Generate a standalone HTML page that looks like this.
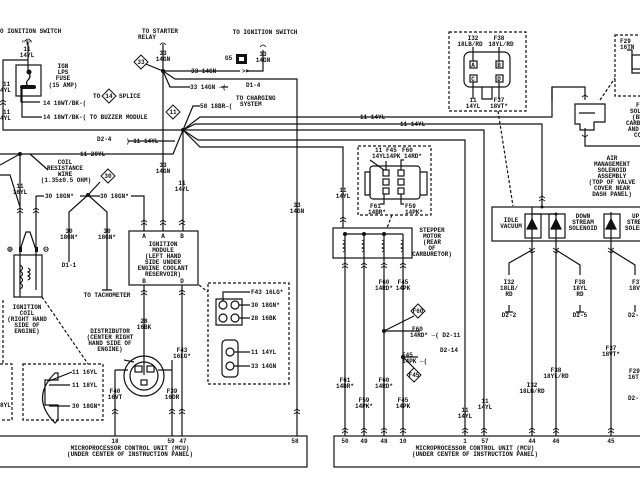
<!DOCTYPE html>
<html><head><meta charset="utf-8"><style>
html,body{margin:0;padding:0;background:#fff;}
svg{display:block;}
text{font-family:"Liberation Mono",monospace;font-size:6px;font-weight:bold;fill:#111;}
.c{text-anchor:middle;}
</style></head><body>
<svg width="640" height="480" viewBox="0 0 640 480" xmlns="http://www.w3.org/2000/svg">
<rect width="640" height="480" fill="#fff"/>
<g stroke="#111" stroke-width="1.2" fill="none">
<rect x="-2" y="436" width="309" height="31"/>
<rect x="334" y="436" width="310" height="31"/>
<path d="M183,130 L200,117 H552 V87 H585 V100"/>
<path d="M183,130 L195,124 H542 V207"/>
<path d="M183,130 H484 V436"/>
<path d="M183,130 L198,140 H465 V436"/>
<path d="M183,130 L200,147 H343 V228"/>
<path d="M28,60 H3 V130 H183"/>
<path d="M0,154 H173 L183,130"/>
<path d="M183,130 V231"/>
<path d="M175,141 H128"/>
<path d="M183,130 L193,106 H200"/>
<rect x="16" y="65" width="25" height="31"/>
<path d="M28,42 V72"/>
<path d="M21,88 V102 H40 M22,88 V117 H42"/>
<path d="M28,72 q4,4 0,8 q-3,3 0,6"/>
<path d="M163,44 V231"/>
<path d="M141,62 L163,71 H240 M246,71 H263 V50"/>
<path d="M163,71 L175,79 H297 V436"/>
<path d="M163,71 L170,87 H190 M221,87 H228"/>
<path d="M20,154 V250"/>
<path d="M0,175 H10 L20,207"/>
<path d="M36,196 H44 M36,196 V250"/>
<path d="M30,154 L48,170"/>
<path d="M0,165 L20,154"/>
<path d="M80,196 H100 M131,196 H144 V231"/>
<path d="M88,195 L69,212 V262 M88,195 L107,212 V290 M102,290 H112"/>
<path d="M88,195 L100,182"/>
<rect x="14" y="255" width="28" height="42"/>
<path d="M20,250 V297 M36,250 V290"/>
<path d="M20,250 L26,232 L30,232 L36,250"/>
<path d="M20,265 q5,3 0,6 q5,3 0,6 q5,3 0,6 q5,3 0,6"/>
<path d="M28,268 q4,2 0,4 q4,2 0,4 q4,2 0,4"/>
<rect x="129" y="231" width="69" height="54"/>
<path d="M144,285 V375 M182,285 V436 M172,360 V436 M115,370 H128 M172,370 H158 M115,370 V436"/>
<circle cx="144" cy="376" r="20"/>
<circle cx="144" cy="376" r="14"/>
<rect x="135" y="366" width="7" height="6"/><rect x="147" y="366" width="7" height="6"/><rect x="141" y="380" width="6" height="5"/>
<path d="M124,360 L134,362"/>
<g stroke-dasharray="3,2">
<rect x="208" y="283" width="81" height="101"/>
<rect x="23" y="364" width="80" height="56"/>
<rect x="-5" y="364" width="17" height="56"/>
<rect x="358" y="146" width="73" height="69"/>
<rect x="449" y="32" width="77" height="79"/>
<rect x="615" y="35" width="30" height="61"/>
<path d="M199,285 L208,292 M42,297 L88,364 M3,300 L3,364 M392,215 L387,228 M498,111 L513,206 M600,100 L615,78"/>
</g>
<path d="M216,299 H242 V325 H216 Z M216,301 V322 M242,309 V315"/>
<circle cx="223" cy="305" r="4"/><circle cx="235" cy="305" r="4"/><circle cx="223" cy="318" r="4"/><circle cx="235" cy="318" r="4"/>
<path d="M223,301 V292 H250 M239,305 H250 M239,318 H250"/>
<rect x="222" y="340" width="16" height="37" rx="4"/>
<circle cx="230" cy="352" r="4"/><circle cx="230" cy="366" r="4"/>
<path d="M234,352 H250 M234,366 H250"/>
<path d="M55,373 q-25,25 0,50 L58,420 V405 L45,405 V380 H58 V373 Z"/>
<path d="M49,381 L72,372 M49,385 H70 M49,406 H70"/>
<rect x="464" y="52" width="46" height="35" rx="6"/>
<path d="M482,87 V99 H492 V87"/>
<rect x="470" y="61" width="7" height="7"/><rect x="496" y="61" width="7" height="7"/><rect x="470" y="75" width="7" height="7"/><rect x="496" y="75" width="7" height="7"/>
<path d="M473,47 V61 M499,47 V61 M473,82 V99 M499,82 V99"/>
<rect x="370" y="166" width="50" height="33" rx="3"/>
<path d="M365,172 H370 V195 H365 Z M420,172 H427 V195 H420"/>
<rect x="383" y="170" width="6" height="6"/><rect x="383" y="179" width="6" height="6"/><rect x="383" y="188" width="6" height="6"/>
<rect x="398" y="170" width="6" height="6"/><rect x="398" y="179" width="6" height="6"/><rect x="398" y="188" width="6" height="6"/>
<path d="M370,160 L384,170 M386,161 V170 M401,170 V160 H404 M384,194 V204 H380 M401,194 V204 H404"/>
<rect x="333" y="228" width="79" height="30"/>
<path d="M343,234 H403 M345,234 V436 M364,234 V436 M384,234 V436 M403,234 V436"/>
<path d="M384,331 L414,316 M384,331 H420 M403,357 L414,368 M403,357 H418"/>
<path d="M552,87 V100"/>
<path d="M575,104 H605 V122 H594 V130 H580 V124 H575 Z M579,113 H595"/>
<path d="M585,128 V146 H645"/>
<rect x="492" y="207" width="150" height="34"/>
<path d="M532,207 V436 M532,214 H556 V436 M611,212 V436"/>
<path d="M532,250 L509,263 V275 M556,250 L580,265 V275 M611,250 L635,265 V275"/>
<path d="M509,305 V312 M580,305 V312 M635,305 V312 M505,312 H513 M576,312 H584"/>
<path d="M527,229 L532,219 L537,229 Z M551,229 L556,219 L561,229 Z M606,229 L611,219 L616,229 Z" fill="#111"/>
<rect x="525" y="214" width="16" height="24"/><rect x="549" y="214" width="16" height="24"/><rect x="604" y="214" width="16" height="24"/>
<path d="M627,50 H632 V73 H640"/>
<rect x="632" y="55" width="10" height="14"/>
</g>
<g fill="#111">
<circle cx="183" cy="130" r="2"/><circle cx="163" cy="71" r="2"/><circle cx="20" cy="154" r="2"/><circle cx="88" cy="195" r="2"/>
<circle cx="384" cy="331" r="2"/><circle cx="403" cy="357" r="2"/><circle cx="29" cy="72" r="2.5"/>
<rect x="20" y="85" width="16" height="4" rx="2"/>
<circle cx="345" cy="234" r="2"/><circle cx="364" cy="234" r="2"/><circle cx="384" cy="234" r="2"/>
<circle cx="542" cy="207" r="1.5"/><circle cx="556" cy="214" r="1.5"/>
<rect x="19" y="247" width="3" height="5"/><rect x="35" y="247" width="3" height="5"/>
</g>
<rect x="236" y="54" width="11" height="10" fill="#111"/><rect x="239" y="57" width="5" height="4" fill="#fff"/>
<g fill="#fff" stroke="#111">
<path d="M141,55 L148,62 L141,69 L134,62 Z"/>
<path d="M173,105 L180,112 L173,119 L166,112 Z"/>
<path d="M108,169 L115,176 L108,183 L101,176 Z"/>
<path d="M109,89 L116,96 L109,103 L102,96 Z"/>
<path d="M418,304 L425,311 L418,318 L411,311 Z"/>
<path d="M414,368 L421,375 L414,382 L407,375 Z"/>
</g>
<g>
<text x="0" y="33">O IGNITION SWITCH</text>
<text x="27" y="45" class="c">"T"</text><text x="27" y="51" class="c">11</text><text x="27" y="57" class="c">14YL</text>
<text x="3" y="86">11</text><text x="0" y="92">4YL</text><text x="3" y="114">11</text><text x="0" y="120">4YL</text>
<text x="63" y="68" class="c">IGN</text><text x="63" y="74" class="c">LPS</text><text x="63" y="80" class="c">FUSE</text><text x="63" y="87" class="c">(15 AMP)</text>
<text x="43" y="105">14 18WT/BK-(</text><text x="43" y="119">14 18WT/BK-( TO BUZZER MODULE</text>
<text x="93" y="98">TO</text><text x="109" y="98" class="c">14</text><text x="119" y="98">SPLICE</text>
<text x="160" y="33" class="c">TO STARTER</text><text x="138" y="39">RELAY</text>
<text x="163" y="55" class="c">33</text><text x="163" y="61" class="c">14GN</text><text x="141" y="64" class="c">33</text>
<text x="191" y="73">33 14GN</text><text x="242" y="73">&gt;&gt;</text><text x="225" y="60">G5</text>
<text x="265" y="34" class="c">TO IGNITION SWITCH</text><text x="263" y="56" class="c">33</text><text x="263" y="62" class="c">14GN</text>
<text x="190" y="89">33 14GN ─(</text><text x="246" y="87">D1-4</text>
<text x="200" y="108">58 18BR─(</text><text x="236" y="100">TO CHARGING</text><text x="240" y="106">SYSTEM</text>
<text x="173" y="114" class="c">11</text>
<text x="97" y="141">D2-4</text><text x="126" y="143">)-11 14YL</text>
<text x="80" y="156">11 20YL</text>
<text x="65" y="164" class="c">COIL</text><text x="65" y="170" class="c">RESISTANCE</text><text x="65" y="176" class="c">WIRE</text><text x="66" y="182" class="c">(1.35±0.5 OHM)</text>
<text x="20" y="188" class="c">11</text><text x="20" y="194" class="c">16YL</text>
<text x="45" y="198">30 18GN*</text><text x="100" y="198">30 18GN*</text><text x="108" y="178" class="c">30</text>
<text x="69" y="233" class="c">30</text><text x="69" y="239" class="c">18GN*</text><text x="107" y="233" class="c">30</text><text x="107" y="239" class="c">18GN*</text>
<text x="69" y="267" class="c">D1-1</text><text x="107" y="297" class="c">TO TACHOMETER</text>
<text x="163" y="167" class="c">33</text><text x="163" y="173" class="c">14GN</text>
<text x="182" y="185" class="c">11</text><text x="182" y="191" class="c">14YL</text>
<text x="297" y="207" class="c">33</text><text x="297" y="213" class="c">14GN</text>
<text x="144" y="238" class="c">A</text><text x="163" y="238" class="c">A</text><text x="182" y="238" class="c">B</text>
<text x="163" y="246" class="c">IGNITION</text><text x="163" y="252" class="c">MODULE</text><text x="163" y="258" class="c">(LEFT HAND</text><text x="163" y="264" class="c">SIDE UNDER</text><text x="163" y="270" class="c">ENGINE COOLANT</text><text x="163" y="276" class="c">RESERVOIR)</text>
<text x="144" y="283" class="c">B</text><text x="182" y="283" class="c">D</text>
<text x="10" y="252" class="c" style="font-size:9px">⊕</text><text x="46" y="252" class="c" style="font-size:9px">⊖</text>
<text x="27" y="309" class="c">IGNITION</text><text x="27" y="315" class="c">COIL</text><text x="27" y="321" class="c">(RIGHT HAND</text><text x="27" y="327" class="c">SIDE OF</text><text x="27" y="333" class="c">ENGINE)</text>
<text x="144" y="323" class="c">28</text><text x="144" y="329" class="c">16BK</text>
<text x="110" y="333" class="c">DISTRIBUTOR</text><text x="110" y="339" class="c">(CENTER RIGHT</text><text x="110" y="345" class="c">HAND SIDE OF</text><text x="110" y="351" class="c">ENGINE)</text>
<text x="182" y="352" class="c">F43</text><text x="182" y="358" class="c">16LG*</text>
<text x="115" y="393" class="c">F40</text><text x="115" y="399" class="c">16VT</text><text x="172" y="393" class="c">F39</text><text x="172" y="399" class="c">16OR</text>
<text x="251" y="294">F43 16LG*</text><text x="251" y="307">30 18GN*</text><text x="251" y="320">28 16BK</text>
<text x="251" y="354">11 14YL</text><text x="251" y="368">33 14GN</text>
<text x="72" y="374">11 16YL</text><text x="72" y="387">11 18YL</text><text x="72" y="408">30 18GN*</text><text x="0" y="407">8YL</text>
<text x="115" y="443" class="c">18</text><text x="171" y="443" class="c">59</text><text x="183" y="443" class="c">47</text><text x="295" y="443" class="c">58</text>
<text x="130" y="450" class="c">MICROPROCESSOR CONTROL UNIT (MCU)</text><text x="130" y="456" class="c">(UNDER CENTER OF INSTRUCTION PANEL)</text>
<text x="360" y="119">11 14YL</text><text x="400" y="126">11 14YL</text>
<text x="343" y="192" class="c">11</text><text x="343" y="198" class="c">14YL</text>
<text x="375" y="152">11</text><text x="372" y="158">14YL</text><text x="386" y="152">F45</text><text x="386" y="158">14PK</text>
<text x="402" y="152">F60</text><text x="404" y="158">14RD*</text>
<text x="370" y="208">F61</text><text x="368" y="214">14BR*</text><text x="405" y="208">F59</text><text x="405" y="214">14PK*</text>
<text x="432" y="232" class="c">STEPPER</text><text x="432" y="238" class="c">MOTOR</text><text x="432" y="244" class="c">(REAR</text><text x="432" y="250" class="c">OF</text><text x="432" y="256" class="c">CARBURETOR)</text>
<text x="384" y="284" class="c">F60</text><text x="384" y="290" class="c">14RD*</text><text x="403" y="284" class="c">F45</text><text x="403" y="290" class="c">14PK</text>
<text x="418" y="313" class="c">F60</text><text x="414" y="377" class="c">F45</text>
<text x="412" y="331">F60</text><text x="410" y="337">14RD* ─( D2-11</text>
<text x="402" y="357">F45</text><text x="402" y="363">14PK ─(</text><text x="440" y="352">D2-14</text>
<text x="345" y="382" class="c">F61</text><text x="345" y="388" class="c">14BR*</text><text x="384" y="382" class="c">F60</text><text x="384" y="388" class="c">14RD*</text>
<text x="364" y="402" class="c">F59</text><text x="364" y="408" class="c">14PK*</text><text x="403" y="402" class="c">F45</text><text x="403" y="408" class="c">14PK</text>
<text x="465" y="412" class="c">11</text><text x="465" y="418" class="c">14YL</text><text x="485" y="403" class="c">11</text><text x="485" y="409" class="c">14YL</text>
<text x="345" y="443" class="c">50</text><text x="364" y="443" class="c">49</text><text x="384" y="443" class="c">48</text><text x="403" y="443" class="c">10</text><text x="465" y="443" class="c">1</text><text x="485" y="443" class="c">57</text><text x="532" y="443" class="c">44</text><text x="556" y="443" class="c">46</text><text x="611" y="443" class="c">45</text>
<text x="475" y="450" class="c">MICROPROCESSOR CONTROL UNIT (MCU)</text><text x="475" y="456" class="c">(UNDER CENTER OF INSTRUCTION PANEL)</text>
<text x="473" y="40" class="c">I32</text><text x="470" y="46" class="c">18LB/RD</text><text x="499" y="40" class="c">F38</text><text x="501" y="46" class="c">18YL/RD</text>
<text x="473" y="67" class="c">A</text><text x="499" y="67" class="c">B</text><text x="473" y="81" class="c">C</text><text x="499" y="81" class="c">D</text>
<text x="473" y="102" class="c">11</text><text x="473" y="108" class="c">14YL</text><text x="499" y="102" class="c">F37</text><text x="499" y="108" class="c">18VT*</text>
<text x="620" y="43">F29</text><text x="620" y="49">16TN</text>
<text x="636" y="107">F</text><text x="630" y="113">SOL</text><text x="632" y="119">(BE</text><text x="626" y="125">CARB</text><text x="628" y="131">AND</text><text x="634" y="137">CO</text>
<text x="612" y="160" class="c">AIR</text><text x="612" y="166" class="c">MANAGEMENT</text><text x="612" y="172" class="c">SOLENOID</text><text x="612" y="178" class="c">ASSEMBLY</text><text x="612" y="184" class="c">(TOP OF VALVE</text><text x="612" y="190" class="c">COVER NEAR</text><text x="612" y="196" class="c">DASH PANEL)</text>
<text x="511" y="222" class="c">IDLE</text><text x="511" y="228" class="c">VACUUM</text>
<text x="583" y="218" class="c">DOWN</text><text x="583" y="224" class="c">STREAM</text><text x="583" y="230" class="c">SOLENOID</text>
<text x="632" y="218">UP</text><text x="627" y="224">STRE</text><text x="625" y="230">SOLEN</text>
<text x="509" y="284" class="c">I32</text><text x="509" y="290" class="c">18LB/</text><text x="509" y="296" class="c">RD</text><text x="509" y="317" class="c">D2-2</text>
<text x="580" y="284" class="c">F38</text><text x="580" y="290" class="c">18YL</text><text x="580" y="296" class="c">RD</text><text x="580" y="317" class="c">D2-5</text>
<text x="632" y="284">F37</text><text x="629" y="290">18VT</text><text x="628" y="317">D2-</text>
<text x="532" y="387" class="c">I32</text><text x="532" y="393" class="c">18LB/RD</text>
<text x="556" y="372" class="c">F38</text><text x="556" y="378" class="c">18YL/RD</text>
<text x="611" y="350" class="c">F37</text><text x="611" y="356" class="c">18VT*</text>
<text x="629" y="373">F29</text><text x="628" y="379">16T</text><text x="628" y="400">D2-</text>
</g>
<g stroke="#111" fill="none" stroke-width="0.8">
<path d="M0,102 l3,-2 l3,2 M0,105 l3,-2 l3,2"/>
<path d="M17,210 l3,-2 l3,2 M17,213 l3,-2 l3,2 M33,210 l3,-2 l3,2 M33,213 l3,-2 l3,2"/>
<path d="M141,222 l3,-2 l3,2 M141,225 l3,-2 l3,2 M160,222 l3,-2 l3,2 M160,225 l3,-2 l3,2 M179,222 l3,-2 l3,2 M179,225 l3,-2 l3,2"/>
<path d="M141,292 l3,-2 l3,2 M141,295 l3,-2 l3,2 M179,292 l3,-2 l3,2 M179,295 l3,-2 l3,2"/>
<path d="M112,411 l3,-2 l3,2 M112,414 l3,-2 l3,2 M169,411 l3,-2 l3,2 M169,414 l3,-2 l3,2 M179,411 l3,-2 l3,2 M179,414 l3,-2 l3,2 M294,411 l3,-2 l3,2 M294,414 l3,-2 l3,2"/>
<path d="M340,219 l3,-2 l3,2 M340,222 l3,-2 l3,2 M539,198 l3,-2 l3,2 M539,201 l3,-2 l3,2"/>
<path d="M342,265 l3,-2 l3,2 M342,268 l3,-2 l3,2 M361,265 l3,-2 l3,2 M361,268 l3,-2 l3,2 M381,265 l3,-2 l3,2 M381,268 l3,-2 l3,2 M400,265 l3,-2 l3,2 M400,268 l3,-2 l3,2"/>
<path d="M342,430 l3,-2 l3,2 M342,433 l3,-2 l3,2 M361,430 l3,-2 l3,2 M361,433 l3,-2 l3,2 M381,430 l3,-2 l3,2 M381,433 l3,-2 l3,2 M400,430 l3,-2 l3,2 M400,433 l3,-2 l3,2 M462,430 l3,-2 l3,2 M462,433 l3,-2 l3,2 M481,430 l3,-2 l3,2 M481,433 l3,-2 l3,2 M529,430 l3,-2 l3,2 M529,433 l3,-2 l3,2 M553,430 l3,-2 l3,2 M553,433 l3,-2 l3,2 M608,430 l3,-2 l3,2 M608,433 l3,-2 l3,2"/>
<path d="M529,248 l3,2 l3,-2 M529,251 l3,2 l3,-2 M553,248 l3,2 l3,-2 M553,251 l3,2 l3,-2 M608,248 l3,2 l3,-2 M608,251 l3,2 l3,-2"/>
<path d="M582,97 l3,-2 l3,2 M582,135 l3,2 l3,-2"/>
<path d="M160,45 q3,-4 6,0 M260,47 q3,-4 6,0 M25,41 q3,-4 6,0"/>
<path d="M343,240 q4,2 0,4 q4,2 0,4 q4,2 0,4 M362,240 q4,2 0,4 q4,2 0,4 q4,2 0,4 M382,240 q4,2 0,4 q4,2 0,4 q4,2 0,4 M401,240 q4,2 0,4 q4,2 0,4 q4,2 0,4"/>
</g>
</svg>
</body></html>
